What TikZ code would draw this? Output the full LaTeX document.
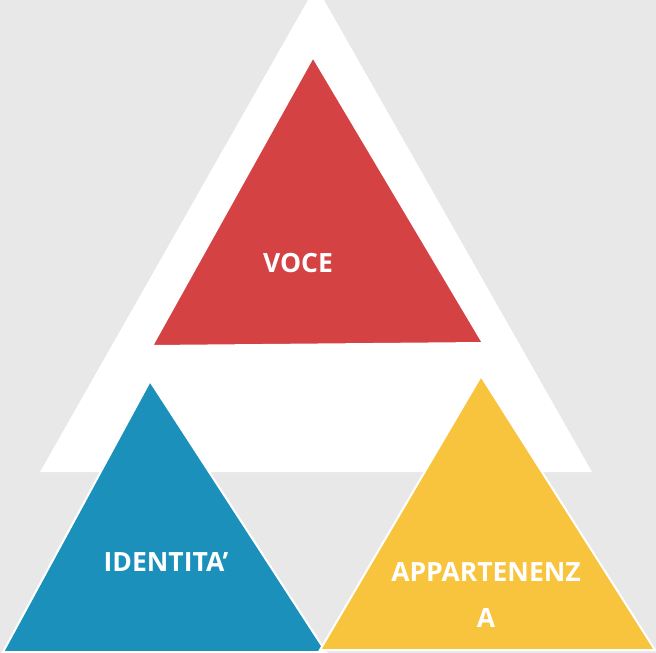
\documentclass[tikz,border=0pt]{standalone}
\usepackage{fontspec}
\setmainfont{Open Sans}
\definecolor{bg}{HTML}{E8E8E8}
\definecolor{cred}{HTML}{D44244}
\definecolor{cblue}{HTML}{1A90BA}
\definecolor{cyellow}{HTML}{F8C43D}
\begin{document}
\begin{tikzpicture}[x=1pt,y=-1pt,
  tri/.style={draw=white,line width=2pt,line join=miter},
  lbl/.style={text=white,font=\bfseries\fontsize{26.5}{46}\selectfont,align=center}]
\useasboundingbox (0,0) rectangle (656,653);
\fill[bg] (0,0) rectangle (656,653);
\begin{scope}
\clip (0,0) rectangle (656,653);
\fill[white] (316,-14) -- (592,472) -- (40,472) -- cycle;
\filldraw[tri,fill=cred] (313,57) -- (483,343) -- (152,346) -- cycle;
\filldraw[tri,fill=cblue] (150,381) -- (326,652) -- (3,652) -- cycle;
\filldraw[tri,fill=cyellow] (481,376) -- (655,650) -- (320,650) -- cycle;
\end{scope}
\node[lbl] (voce) at (298,263) {VOCE};
\node[lbl] (ident) at (166,562) {IDENTITA’};
\node[lbl] (appart) at (486,595) {APPARTENENZ\\A};
\end{tikzpicture}
\end{document}
